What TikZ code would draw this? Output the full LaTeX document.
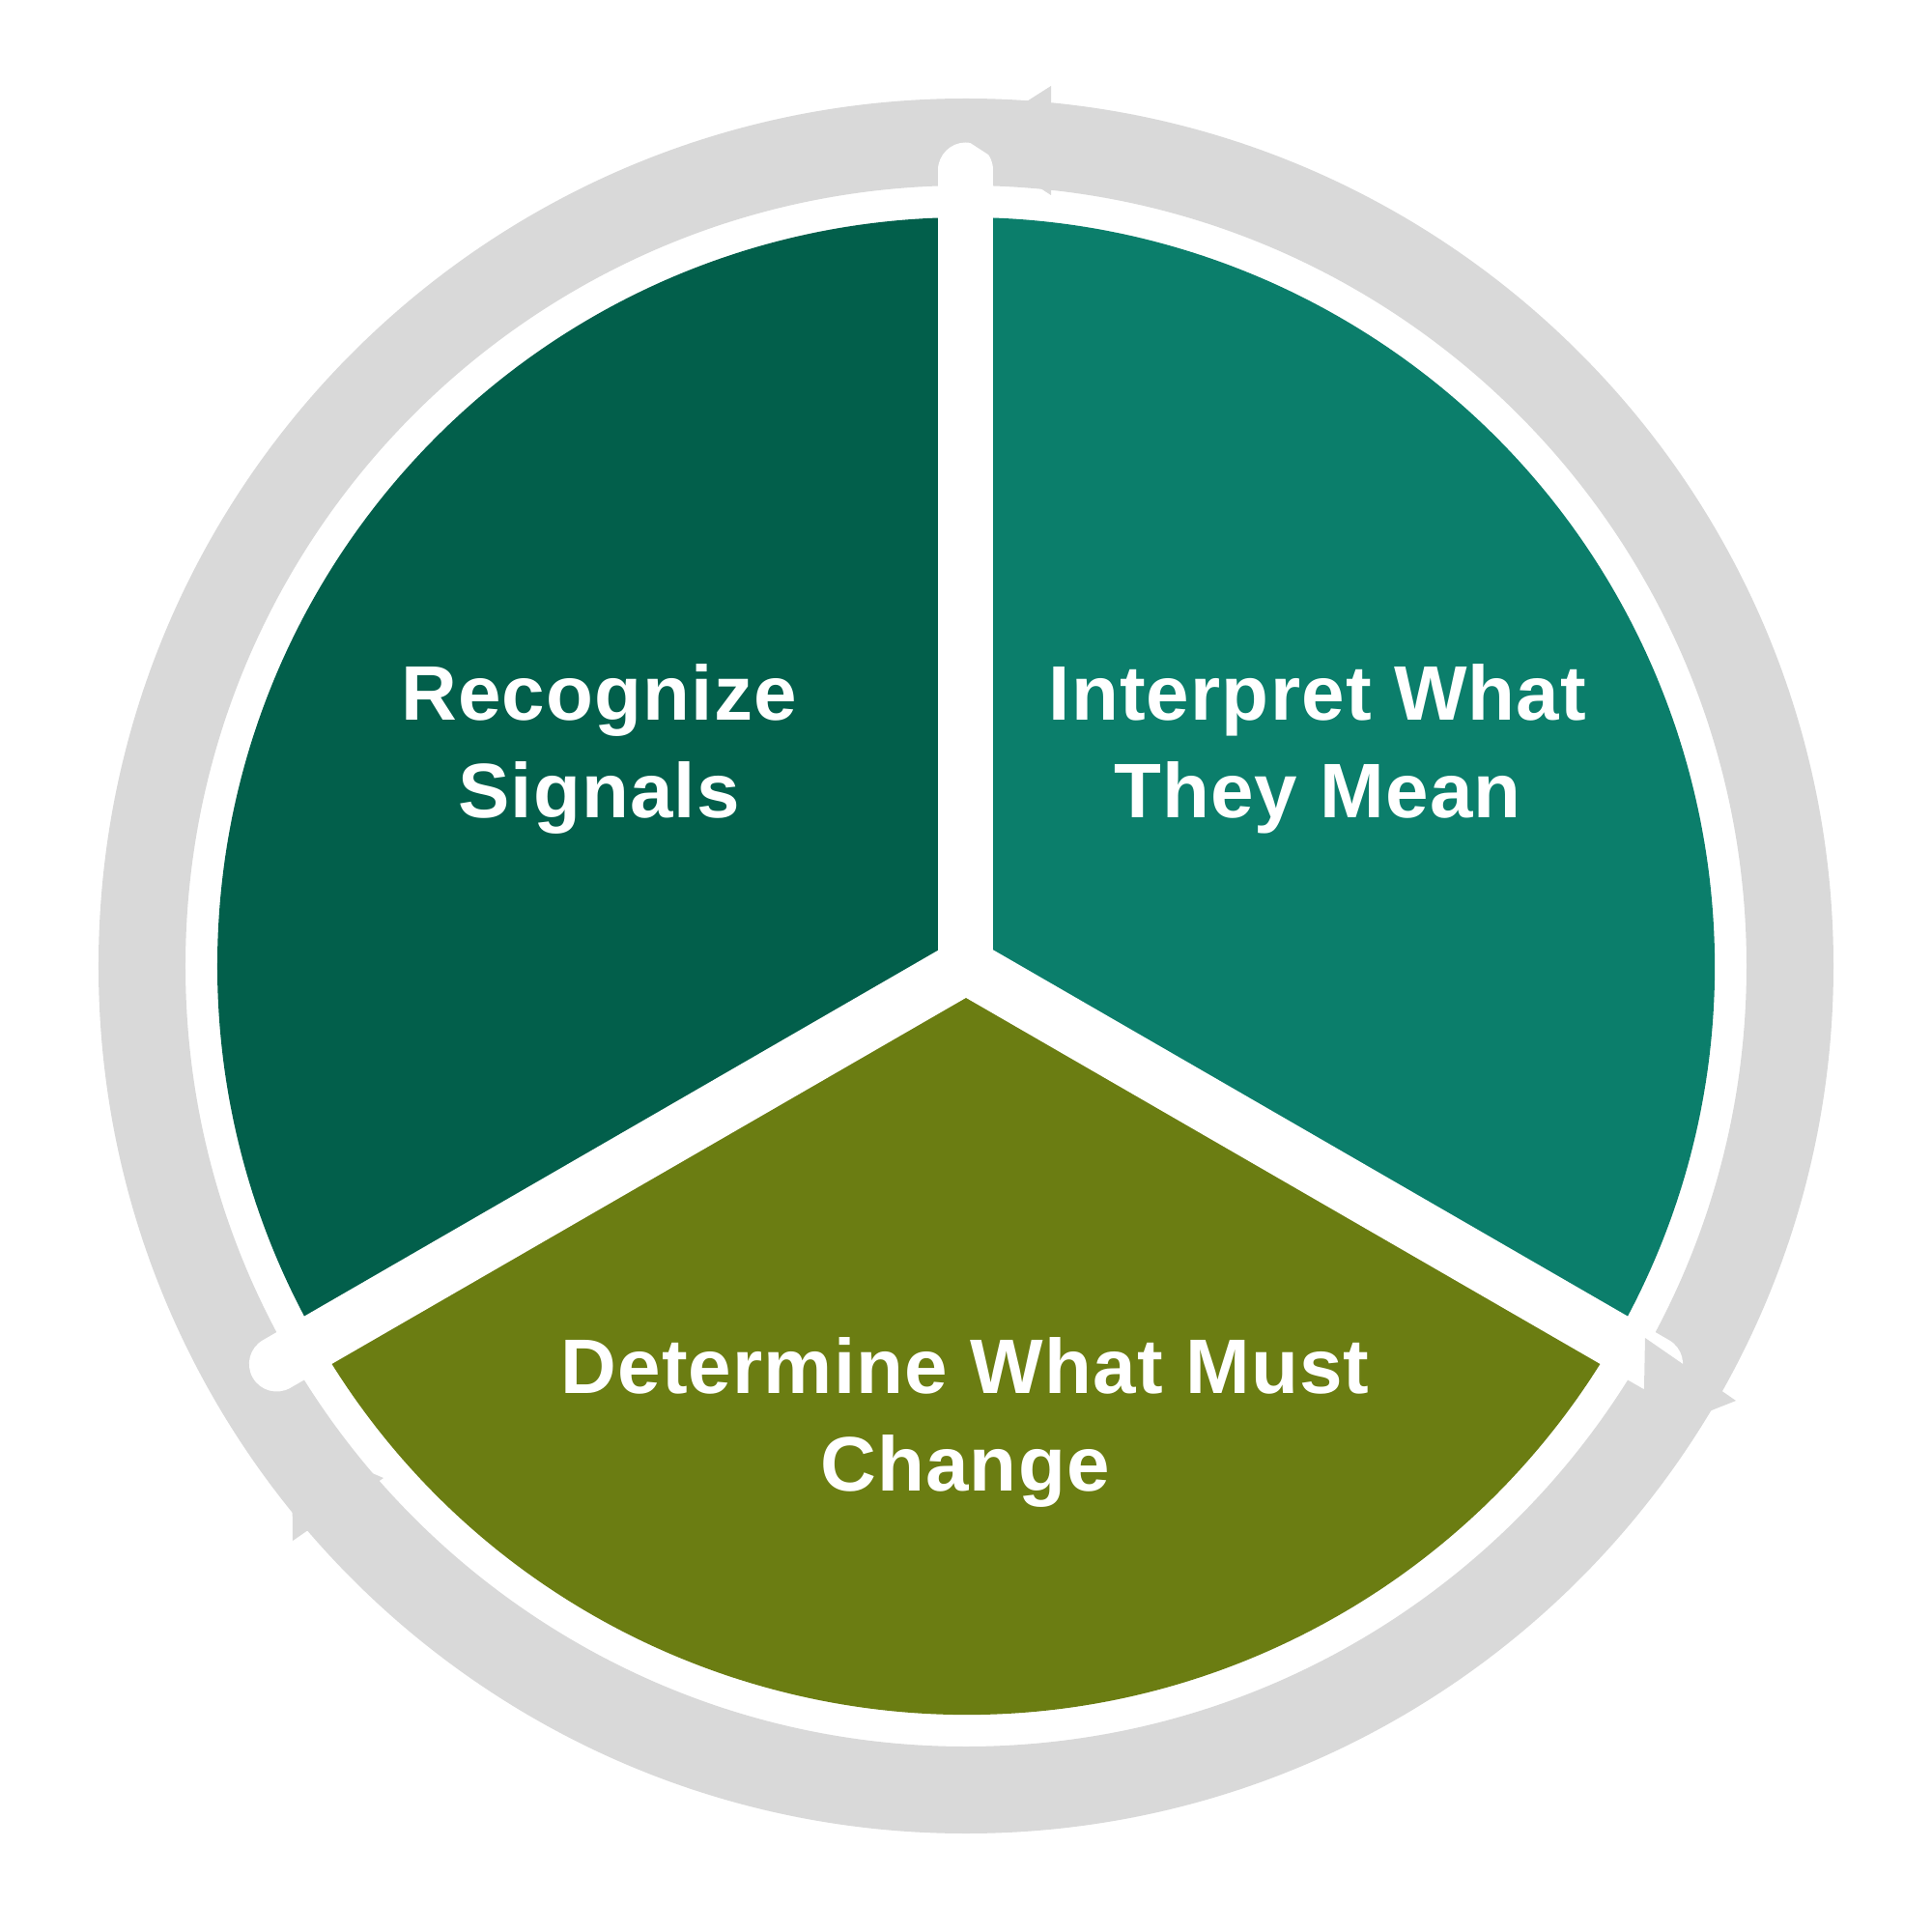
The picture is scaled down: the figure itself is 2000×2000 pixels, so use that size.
\documentclass[tikz,border=0pt]{standalone}
\usepackage{fontspec}
\setmainfont{Liberation Sans}[LetterSpace=1.5]
\definecolor{ringgrey}{RGB}{217,217,217}
\definecolor{darkgreen}{RGB}{2,95,75}
\definecolor{tealgreen}{RGB}{11,126,107}
\definecolor{olivegreen}{RGB}{107,125,18}
\tikzset{
  sector/.style={draw=none},
  separator/.style={draw=white, line width=57pt, line cap=round},
  arrowtip/.style={fill=ringgrey, draw=none},
  label/.style={text=white, font=\bfseries\fontsize{80}{101}\selectfont, align=center, inner sep=0pt, anchor=base}
}
\begin{document}
\begin{tikzpicture}[x=1pt,y=1pt]
\useasboundingbox (-1000,-1000) rectangle (1000,1000);
\fill[white] (-1000,-1000) rectangle (1000,1000);
\coordinate (c) at (0,0);
% grey ring
\fill[ringgrey, even odd rule] (c) circle[radius=898] (c) circle[radius=808];
% sectors
\fill[darkgreen] (c) -- (90:775) arc[start angle=90, end angle=210, radius=775] -- cycle;
\fill[tealgreen] (c) -- (-30:775) arc[start angle=-30, end angle=90, radius=775] -- cycle;
\fill[olivegreen] (c) -- (210:775) arc[start angle=210, end angle=330, radius=775] -- cycle;
% separators
\coordinate (s1) at (90:824);
\coordinate (s2) at (210:824);
\coordinate (s3) at (330:824);
\draw[separator] (c) -- (s1);
\draw[separator] (c) -- (s2);
\draw[separator] (c) -- (s3);
% arrow heads
\coordinate (ta) at (0,855);
\coordinate (ta1) at (88,911);
\coordinate (ta2) at (88,798);
\fill[arrowtip] (ta) -- (ta1) -- (ta2) -- cycle;
\coordinate (ra) at (701,-488);
\coordinate (ra1) at (703,-385);
\coordinate (ra2) at (797,-450);
\fill[arrowtip] (ra) -- (ra1) -- (ra2) -- cycle;
\coordinate (la) at (-698,-490);
\coordinate (la1) at (-697,-595);
\coordinate (la2) at (-603,-530);
\fill[arrowtip] (la) -- (la1) -- (la2) -- cycle;
% labels (anchor base = baseline of the last line)
\node[label] (recognize) at (-380,153) {Recognize\\Signals};
\node[label] (interpret) at (364,153) {Interpret What\\They Mean};
\node[label] (determine) at (-1,-543) {Determine What Must\\Change};
\end{tikzpicture}
\end{document}
